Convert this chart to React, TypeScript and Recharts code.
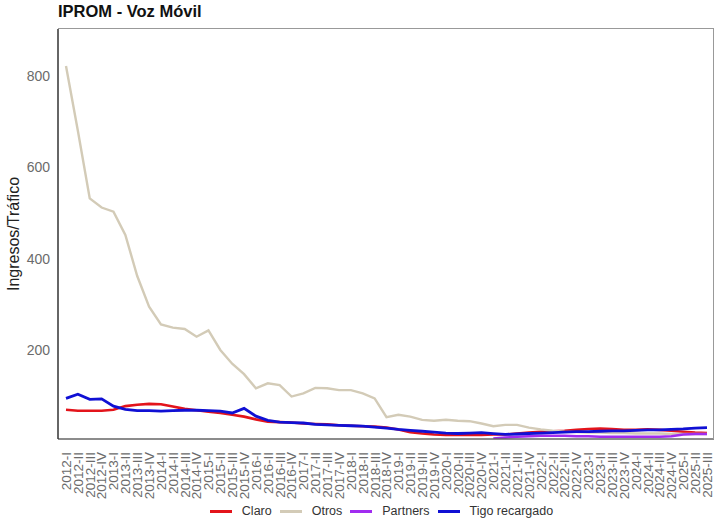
import { LineChart, Line, XAxis, YAxis, Legend } from 'recharts'

const quarters = [
  '2012-I', '2012-II', '2012-III', '2012-IV',
  '2013-I', '2013-II', '2013-III', '2013-IV',
  '2014-I', '2014-II', '2014-III', '2014-IV',
  '2015-I', '2015-II', '2015-III', '2015-IV',
  '2016-I', '2016-II', '2016-III', '2016-IV',
  '2017-I', '2017-II', '2017-III', '2017-IV',
  '2018-I', '2018-II', '2018-III', '2018-IV',
  '2019-I', '2019-II', '2019-III', '2019-IV',
  '2020-I', '2020-II', '2020-III', '2020-IV',
  '2021-I', '2021-II', '2021-III', '2021-IV',
  '2022-I', '2022-II', '2022-III', '2022-IV',
  '2023-I', '2023-II', '2023-III', '2023-IV',
  '2024-I', '2024-II', '2024-III', '2024-IV',
  '2025-I', '2025-II', '2025-III',
]

const claro = [
  69, 67, 67, 67, 69, 77, 80, 82, 81, 76, 71, 68, 65, 62, 58, 54,
  48, 43, 42, 41, 39, 38, 37, 35, 34, 33, 32, 30, 26, 20, 17, 15,
  14, 14, 14, 14, 15, 15, 17, 19, 21, 22, 23, 25, 27, 28, 27, 25,
  25, 26, 25, 23, 21, 19, 18,
]

const otros = [
  822, 680, 532, 512, 503, 452, 362, 295, 256, 249, 246, 229, 243, 200, 170, 147,
  116, 127, 123, 98, 105, 117, 116, 112, 112, 105, 94, 53, 58, 54, 47, 45,
  47, 45, 44, 39, 33, 36, 36, 30, 26, 23, 21, 20, 19, 19, 18, 18,
  17, 17, 17, 16, 16, 16, 16,
]

const partners: (number | null)[] = [
  null, null, null, null, null, null, null, null, null, null, null, null,
  null, null, null, null, null, null, null, null, null, null, null, null,
  null, null, null, null, null, null, null, null, null, null, null, null,
  6, 8, 10, 11, 12, 12, 12, 11, 11, 10, 10, 10, 10, 10, 10, 11, 15, 16, 16,
]

const tigo = [
  94, 103, 92, 93, 77, 70, 67, 67, 66, 67, 68, 68, 67, 66, 62, 72,
  55, 46, 42, 41, 40, 37, 36, 35, 34, 33, 31, 29, 26, 24, 22, 20,
  18, 17, 18, 19, 17, 15, 16, 17, 18, 19, 20, 21, 21, 22, 23, 23,
  24, 25, 25, 26, 27, 29, 30,
]

const yTicks = [200, 400, 600, 800]

const series = [
  { key: 'Claro', color: '#E3141B', width: 2.6 },
  { key: 'Otros', color: '#D3CBB7', width: 2.4 },
  { key: 'Partners', color: '#A12CF0', width: 2.6 },
  { key: 'Tigo recargado', color: '#1010D4', width: 2.8 },
]

const data = quarters.map((q, i) => ({
  q,
  Claro: claro[i],
  Otros: otros[i],
  Partners: partners[i],
  'Tigo recargado': tigo[i],
}))

const font = '"Liberation Sans", Arial, sans-serif'

function QuarterTick({ x, y, payload }: any) {
  return (
    <g transform={`translate(${x},${y})`}>
      <text
        transform="rotate(-90)"
        textAnchor="end"
        dy="0.36em"
        fontSize={13.5}
        fill="#6b6b6b"
        fontFamily={font}
      >
        {payload.value}
      </text>
    </g>
  )
}

function LegendBox() {
  return (
    <div
      style={{
        display: 'flex',
        justifyContent: 'center',
        gap: 8,
        paddingLeft: 49,
        paddingTop: 6,
        fontFamily: font,
        fontSize: 12.5,
        color: '#333',
      }}
    >
      {series.map((s) => (
        <div key={s.key} style={{ display: 'flex', alignItems: 'center' }}>
          <span
            style={{
              display: 'inline-block',
              width: 22,
              height: 3,
              background: s.color,
              marginRight: 10,
            }}
          />
          {s.key}
        </div>
      ))}
    </div>
  )
}

export default function App() {
  return (
    <div style={{ position: 'absolute', left: 0, top: 0, width: 723, height: 522, background: '#fff' }}>
      <div
        style={{
          position: 'absolute',
          left: 58,
          top: 2,
          fontFamily: font,
          fontWeight: 'bold',
          fontSize: 16.5,
          color: '#111',
        }}
      >
        IPROM - Voz Móvil
      </div>
      <LineChart
        width={723}
        height={522}
        data={data}
        margin={{ top: 29, right: 9, left: 0, bottom: 0 }}
      >
        <XAxis
          dataKey="q"
          interval={0}
          height={59}
          tick={<QuarterTick />}
          tickLine={false}
          tickMargin={7}
          axisLine={{ stroke: '#666', strokeWidth: 1.5 }}
          padding={{ left: 8, right: 7 }}
        />
        <YAxis
          domain={[5, 903]}
          ticks={yTicks}
          width={58}
          tickLine={false}
          tickMargin={2}
          tick={{ fontSize: 14, fill: '#6b6b6b', fontFamily: font }}
          axisLine={{ stroke: '#333', strokeWidth: 1.5 }}
          allowDataOverflow
          label={{
            value: 'Ingresos/Tráfico',
            angle: -90,
            position: 'insideLeft',
            offset: 13,
            style: { textAnchor: 'middle', fontSize: 16, fill: '#222', fontFamily: font },
          }}
        />
        <Legend verticalAlign="bottom" height={24} content={<LegendBox />} />
        {series.map((s) => (
          <Line
            key={s.key}
            dataKey={s.key}
            stroke={s.color}
            strokeWidth={s.width}
            dot={false}
            activeDot={false}
            type="linear"
            isAnimationActive={false}
            connectNulls={false}
          />
        ))}
      </LineChart>
      {/* panel frame: top and right edges */}
      <div
        style={{
          position: 'absolute',
          left: 58,
          top: 28,
          width: 655,
          height: 410,
          borderTop: '1.5px solid #999',
          borderRight: '1.5px solid #999',
          pointerEvents: 'none',
        }}
      />
    </div>
  )
}
